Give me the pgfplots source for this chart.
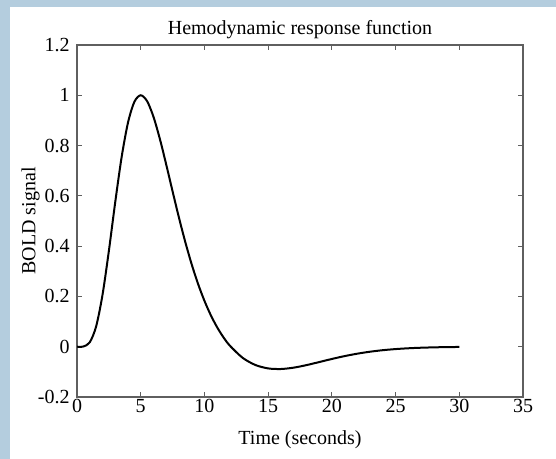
\documentclass[border=0pt]{standalone}
\usepackage{pgfplots}
\pgfplotsset{compat=1.18}
\usepackage{fontspec}
\setmainfont{Liberation Serif}
\definecolor{frameblue}{RGB}{180,205,222}
\definecolor{axgray}{RGB}{95,95,95}
\begin{document}
\begin{tikzpicture}[x=0.75pt,y=0.75pt]
\useasboundingbox (-77,-62) rectangle (479,397);
\fill[white] (-77,-62) rectangle (479,397);
\fill[frameblue] (-77,-62) rectangle (-67,397);
\fill[frameblue] (-77,390) rectangle (479,397);
\begin{axis}[
  at={(0,0)}, anchor=south west,
  scale only axis,
  width=334.5pt, height=264pt,
  xmin=0, xmax=35, ymin=-0.2, ymax=1.2,
  xtick={0,5,...,35},
  ytick={-0.2,0,0.2,0.4,0.6,0.8,1,1.2},
  yticklabels={-0.2,0,0.2,0.4,0.6,0.8,1,1.2},
  xticklabels={0,5,10,15,20,25,30,35},
  tick align=inside,
  major tick length=3.5pt,
  axis line style={axgray, line width=1.1pt},
  every tick/.style={axgray, line width=0.8pt},
  font=\fontsize{15pt}{17pt}\selectfont,
  tick label style={font=\fontsize{15pt}{17pt}\selectfont},
  /pgf/number format/assume math mode=true,
  xticklabel style={yshift=2pt},
  yticklabel style={xshift=-2pt},
  title={Hemodynamic response function},
  title style={yshift=-5pt},
  xlabel={Time (seconds)},
  ylabel={BOLD signal},
  xlabel style={at={(axis description cs:0.5,-0.122)}, anchor=center},
  ylabel style={at={(axis description cs:-0.104,0.5)}, anchor=center},
]
\addplot[black, line width=1.5pt, smooth] coordinates {
(0,0) (0.5,0.0009) (1,0.01747) (1.5,0.08048) (2,0.20570) (2.5,0.38076)
(3,0.57466) (3.5,0.75335) (4,0.89084) (4.5,0.97365) (5,1.0) (5.5,0.97660)
(6,0.91469) (6.5,0.82685) (7,0.72484) (7.5,0.61806) (8,0.51356) (8.5,0.41592)
(9,0.32768) (9.5,0.24991) (10,0.18267) (10.5,0.12535) (11,0.07709) (11.5,0.03688)
(12,0.00386) (13,-0.04419) (14,-0.07274) (15,-0.08629) (16,-0.08865) (17,-0.08331)
(18,-0.07328) (19,-0.06115) (20,-0.04874) (21,-0.03737) (22,-0.02766) (23,-0.01984)
(24,-0.01383) (25,-0.00939) (26,-0.00622) (27,-0.00403) (28,-0.00256) (29,-0.00159)
(30,-0.00097)
};
\end{axis}
\end{tikzpicture}
\end{document}
